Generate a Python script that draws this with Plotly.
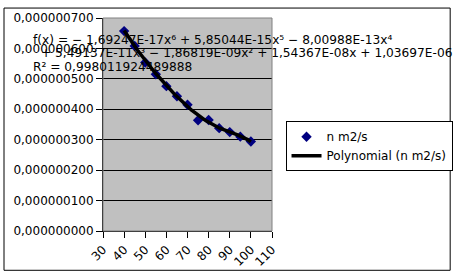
import numpy as np
import plotly.graph_objects as go

# Data
temps = [40, 45, 50, 55, 60, 65, 70, 75, 80, 85, 90, 95, 100]
visc_nm = [657, 608, 554, 515, 476, 443, 415, 364, 365, 338, 325, 310, 294]  # x1e-9 m2/s
visc = [v * 1e-9 for v in visc_nm]

# Trendline coefficients as shown on the chart (degree 6 down to 0)
poly_coeffs = [-1.69247e-17, 5.85044e-15, -8.00988e-13, 5.49137e-11,
               -1.86819e-09, 1.54367e-08, 1.03697e-06]

eq_line1 = "f(x) = − 1,69247E-17x⁶ + 5,85044E-15x⁵ − 8,00988E-13x⁴"
eq_line2 = "+ 5,49137E-11x³ − 1,86819E-09x² + 1,54367E-08x + 1,03697E-06"
eq_line3 = "R² = 0,998011924489888"

x_ticks = [30, 40, 50, 60, 70, 80, 90, 100, 110]

xs = np.linspace(min(temps), max(temps), 200)
ys = np.polyval(poly_coeffs, xs)

FONT = "DejaVu Sans"

fig = go.Figure()
fig.add_trace(go.Scatter(
    x=temps, y=visc, mode="markers", name="n m2/s",
    marker=dict(symbol="diamond", size=8, color="#000080",
                line=dict(width=0))))
fig.add_trace(go.Scatter(
    x=xs, y=ys, mode="lines", name="Polynomial (n m2/s)",
    line=dict(color="black", width=3.5)))

L, R, T, B = 103, 186, 11, 44
W, H = 464, 280
pw, ph = W - L - R, H - T - B

def px(xp):
    return (xp - L) / pw

def py(yp):
    return 1 - (yp - T) / ph

fig.update_layout(
    width=W, height=H,
    margin=dict(l=L, r=R, t=T, b=B, pad=0),
    paper_bgcolor="white", plot_bgcolor="#c0c0c0",
    separators=", ",
    font=dict(family=FONT, size=12, color="black"),
    showlegend=True,
    legend=dict(x=px(292), y=py(120), xanchor="left", yanchor="top",
                bgcolor="white", bordercolor="black", borderwidth=1,
                font=dict(family=FONT, size=12, color="black"),
                itemwidth=30, tracegroupgap=0),
    xaxis=dict(range=[30, 110], tickvals=x_ticks, tickangle=-45,
               showgrid=False, zeroline=False, showline=True,
               linecolor="black", linewidth=1, ticks="outside",
               ticklen=6, tickcolor="black",
               tickfont=dict(family=FONT, size=12, color="black")),
    yaxis=dict(range=[0, 7e-7], dtick=1e-7, tickformat=".9f",
               showgrid=True, gridcolor="black", gridwidth=1,
               zeroline=False, showline=True, linecolor="black",
               linewidth=1, ticks="outside", ticklen=6, tickcolor="black",
               tickfont=dict(family=FONT, size=12, color="black")),
    shapes=[
        dict(type="rect", xref="paper", yref="paper", x0=0, x1=1, y0=0, y1=1,
             line=dict(color="#808080", width=1), layer="above"),
        dict(type="rect", xref="paper", yref="paper",
             x0=px(0.5), x1=px(462.5), y0=py(0.5), y1=py(277.5),
             line=dict(color="black", width=1)),
    ],
    annotations=[
        dict(text=eq_line1, xref="paper", yref="paper", x=px(28), y=py(34),
             xanchor="left", yanchor="middle", showarrow=False,
             font=dict(family=FONT, size=12.2, color="black")),
        dict(text=eq_line2, xref="paper", yref="paper", x=px(37), y=py(48),
             xanchor="left", yanchor="middle", showarrow=False,
             font=dict(family=FONT, size=12.2, color="black")),
        dict(text=eq_line3, xref="paper", yref="paper", x=px(28), y=py(63),
             xanchor="left", yanchor="middle", showarrow=False,
             font=dict(family=FONT, size=12.2, color="black")),
    ],
)

fig.write_html("out.html")
